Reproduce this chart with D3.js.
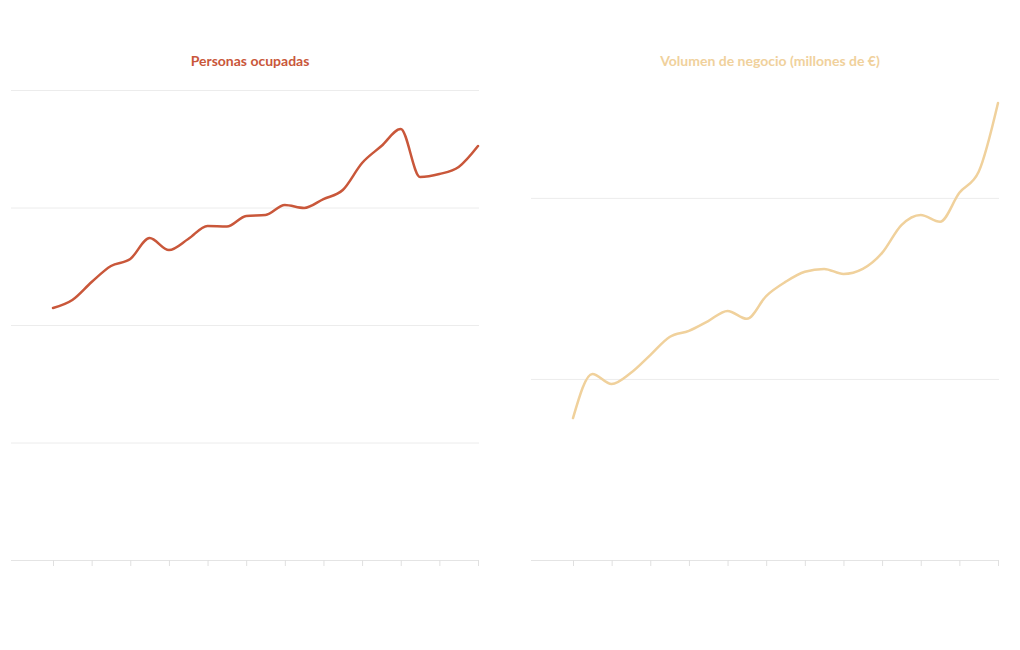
<!DOCTYPE html>
<html lang="es">
	<head>
		<meta charset="utf-8">
		<title>Personas ocupadas y volumen de negocio</title>
		<script src="https://unpkg.com/d3@7/dist/d3.min.js"></script>
		<style>
			body { margin: 0; background: #fff; }
			.title { font-family: Lato, "Noto Sans", sans-serif; font-weight: bold; font-size: 14px; }
		</style>
	</head>
	<body>
		<script type="text/javascript">

			//Periods (x axis), one tick every two periods
			var periods = d3.range(2000, 2023);
			var tickPeriods = periods.filter(function(p, i) { return i % 2 == 0; });

			//Series
			var personas = [21450, 22130, 23660, 25020, 25620, 27400, 26380, 27320, 28430, 28380,
							29280, 29360, 30210, 29960, 30720, 31490, 33790, 35230, 36680, 32600,
							32850, 33450, 35230];
			var negocio = [392, 514, 486, 517, 566, 616, 633, 660, 688, 666,
						   729, 768, 796, 804, 790, 804, 848, 925, 953, 934,
						   1014, 1072, 1262];

			var personasTicks = [0, 10000, 20000, 30000, 40000];
			var negocioTicks = [0, 500, 1000];

			var w = 1020, h = 650;

			var svg = d3.select("body")
						.append("svg")
						.attr("width", w)
						.attr("height", h);

			function panel(offsetX, title, values, domainMax, ticks, color) {
				var left = 53, right = 478, top = 90, bottom = 560;

				var g = svg.append("g")
						   .attr("transform", "translate(" + offsetX + ",0)");

				var x = d3.scaleLinear()
						  .domain(d3.extent(periods))
						  .range([left, right]);

				var y = d3.scaleLinear()
						  .domain([0, domainMax])
						  .range([bottom, top]);

				//Gridlines
				g.append("g")
				 .selectAll("line")
				 .data(ticks)
				 .enter()
				 .append("line")
				 .attr("x1", left - 42)
				 .attr("x2", right + 1)
				 .attr("y1", function(d) { return y(d) + 0.5; })
				 .attr("y2", function(d) { return y(d) + 0.5; })
				 .attr("stroke", function(d) { return d == 0 ? "#e4e4e4" : "#ececec"; })
				 .attr("stroke-width", 1);

				//Bottom ticks
				var xAxis = d3.axisBottom(x)
							  .tickValues(tickPeriods)
							  .tickSize(6)
							  .tickFormat("");

				var ax = g.append("g")
						  .attr("transform", "translate(0," + bottom + ")")
						  .call(xAxis);
				ax.select(".domain").remove();
				ax.selectAll(".tick line").attr("stroke", "#e0e0e0");

				//Line
				var line = d3.line()
							 .x(function(d, i) { return x(periods[i]); })
							 .y(function(d) { return y(d); })
							 .curve(d3.curveMonotoneX);

				g.append("path")
				 .datum(values)
				 .attr("d", line)
				 .attr("fill", "none")
				 .attr("stroke", color)
				 .attr("stroke-width", 2.5)
				 .attr("stroke-linejoin", "round")
				 .attr("stroke-linecap", "round");

				//Title
				g.append("text")
				 .attr("class", "title")
				 .attr("x", 250)
				 .attr("y", 66)
				 .attr("text-anchor", "middle")
				 .attr("fill", color)
				 .text(title);
			}

			panel(0, "Personas ocupadas", personas, 40000, personasTicks, "#c9573a");
			panel(520, "Volumen de negocio (millones de €)", negocio, 1298, negocioTicks, "#f0d19c");

		</script>
	</body>
</html>
